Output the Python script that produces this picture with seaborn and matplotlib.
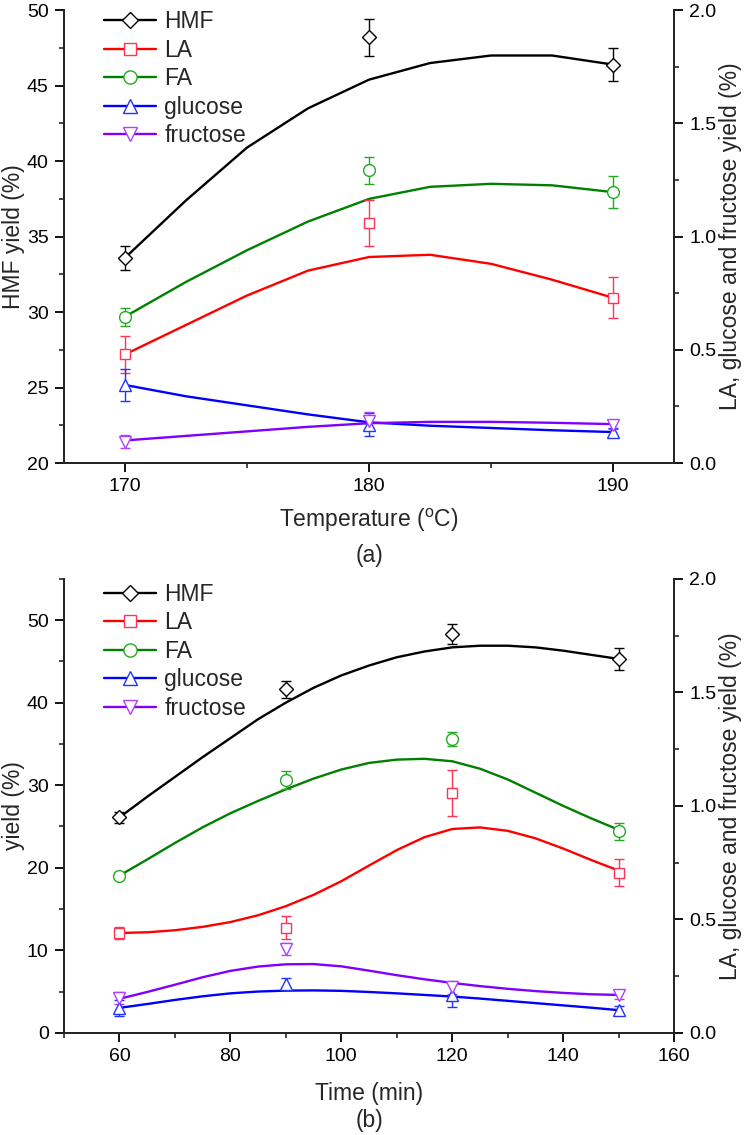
import numpy as np
import pandas as pd
import matplotlib.pyplot as plt
import seaborn as sns
from matplotlib.lines import Line2D
from matplotlib.ticker import MultipleLocator

sns.set_style('ticks')
plt.rcParams['font.family'] = ['Liberation Sans', 'DejaVu Sans']

# ---- panel (a): temperature series ----
temp = [170, 180, 190]
a_hmf = [33.6, 48.2, 46.4]
a_hmf_err = [0.8, 1.2, 1.1]
a_fa = [29.7, 39.4, 37.95]
a_fa_err = [0.6, 0.9, 1.05]
a_la = [0.48, 1.06, 0.73]
a_la_err = [0.08, 0.10, 0.09]
a_glu = [0.345, 0.17, 0.137]
a_glu_err = [0.07, 0.05, 0.02]
a_fru = [0.095, 0.187, 0.17]
a_fru_err = [0.03, 0.04, 0.02]

# fitted curves of panel (a)
temp_fit = [170, 172.5, 175, 177.5, 180, 182.5, 185, 187.5, 190]
a_hmf_fit = [33.6, 37.4, 40.9, 43.5, 45.4, 46.5, 47.0, 47.0, 46.4]
a_fa_fit = [29.7, 32.0, 34.1, 36.0, 37.5, 38.3, 38.5, 38.4, 37.95]
a_la_fit = [0.48, 0.61, 0.74, 0.85, 0.91, 0.92, 0.88, 0.81, 0.73]
a_glu_fit = [0.345, 0.295, 0.255, 0.215, 0.18, 0.165, 0.155, 0.145, 0.137]
a_fru_fit = [0.10, 0.12, 0.14, 0.16, 0.176, 0.182, 0.182, 0.178, 0.172]

# ---- panel (b): time series ----
time = [60, 90, 120, 150]
b_hmf = [26.1, 41.6, 48.3, 45.3]
b_hmf_err = [0.7, 1.0, 1.2, 1.3]
b_fa = [19.05, 30.6, 35.6, 24.4]
b_fa_err = [0.4, 1.1, 0.8, 1.0]
b_la = [0.44, 0.463, 1.057, 0.705]
b_la_err = [0.027, 0.05, 0.10, 0.06]
b_glu = [0.11, 0.216, 0.167, 0.10]
b_glu_err = [0.035, 0.025, 0.053, 0.02]
b_fru = [0.154, 0.37, 0.20, 0.167]
b_fru_err = [0.025, 0.028, 0.03, 0.02]

# fitted curves of panel (b)
time_fit = [60, 65, 70, 75, 80, 85, 90, 95, 100, 105, 110, 115, 120,
            125, 130, 135, 140, 145, 150]
b_hmf_fit = [26.1, 28.6, 31.0, 33.4, 35.7, 38.0, 40.0, 41.8, 43.3, 44.5,
             45.5, 46.2, 46.7, 46.9, 46.9, 46.7, 46.3, 45.8, 45.3]
b_fa_fit = [19.05, 21.0, 23.0, 24.9, 26.6, 28.1, 29.5, 30.8, 31.9, 32.7,
            33.1, 33.2, 32.9, 32.0, 30.7, 29.1, 27.5, 26.0, 24.6]
b_la_fit = [0.44, 0.443, 0.452, 0.467, 0.488, 0.518, 0.558, 0.608, 0.668, 0.737,
            0.805, 0.862, 0.898, 0.905, 0.89, 0.857, 0.812, 0.762, 0.715]
b_glu_fit = [0.11, 0.127, 0.145, 0.161, 0.174, 0.182, 0.186, 0.187, 0.185,
             0.18, 0.174, 0.167, 0.16, 0.151, 0.141, 0.131, 0.121, 0.111, 0.10]
b_fru_fit = [0.15, 0.18, 0.212, 0.245, 0.273, 0.292, 0.302, 0.303, 0.293,
             0.274, 0.254, 0.236, 0.22, 0.206, 0.194, 0.184, 0.176, 0.17, 0.167]

names = ['HMF', 'LA', 'FA', 'glucose', 'fructose']
line_colors = ['#000000', '#ff0000', '#008000', '#0000ff', '#8000ff']
marker_colors = ['#000000', '#ff3355', '#22aa22', '#2233ff', '#b040ff']
markers = ['D', 's', 'o', '^', 'v']
marker_sizes = [7, 7.5, 8.5, 9, 9]
on_right = [False, True, False, True, True]


def draw_panel(rect, x, x_fit, pts, errs, fits, xlim, ylim, xmaj, xmin,
               ymaj, ymin, xlabel, ylabel, tag, label_y, tag_y, leg_y):
    ax = fig.add_axes(rect)
    ax2 = ax.twinx()
    for i, name in enumerate(names):
        a = ax2 if on_right[i] else ax
        sns.lineplot(x=x_fit, y=fits[i], ax=a, color=line_colors[i],
                     lw=1.7, legend=False, zorder=2)
        a.errorbar(x, pts[i], yerr=errs[i], fmt=markers[i], mfc='white',
                   mec=marker_colors[i], ecolor=marker_colors[i],
                   ms=marker_sizes[i], mew=1.0, elinewidth=1.0,
                   capsize=3.5, capthick=1.0, zorder=3)

    ax.set_xlim(*xlim)
    ax.set_ylim(*ylim)
    ax2.set_ylim(0, 2.0)
    ax.xaxis.set_major_locator(MultipleLocator(xmaj))
    ax.xaxis.set_minor_locator(MultipleLocator(xmin))
    ax.yaxis.set_major_locator(MultipleLocator(ymaj))
    ax.yaxis.set_minor_locator(MultipleLocator(ymin))
    ax2.yaxis.set_major_locator(MultipleLocator(0.5))
    ax2.yaxis.set_minor_locator(MultipleLocator(0.25))
    ax2.yaxis.set_major_formatter(plt.FormatStrFormatter('%.1f'))

    for a in (ax, ax2):
        a.spines['top'].set_visible(False)
        for s in ('left', 'right', 'bottom'):
            a.spines[s].set_linewidth(1.4)
        a.tick_params(which='major', direction='out', length=6.5, width=1.3,
                      labelsize=14, colors='black', pad=4.5)
        a.tick_params(which='minor', direction='out', length=3.5, width=1.2)
    ax.tick_params(axis='y', which='both', right=False)

    ax.set_xlabel(xlabel, fontsize=16.5)
    ax.xaxis.set_label_coords(0.5, label_y)
    ax.set_ylabel(ylabel, fontsize=16.5, labelpad=1.5)
    ax2.set_ylabel('LA, glucose and fructose yield (%)', fontsize=16.5,
                   labelpad=2)
    ax.text(0.5, tag_y, tag, transform=ax.transAxes, ha='center',
            va='center', fontsize=16.5)

    handles = [Line2D([], [], color=line_colors[i], lw=1.7, marker=markers[i],
                      mfc='white', mec=marker_colors[i], mew=1.0,
                      ms=marker_sizes[i] + 1)
               for i in range(len(names))]
    ax2.legend(handles, names, loc='upper left', bbox_to_anchor=(0.05, leg_y),
               frameon=False, fontsize=16.5, handlelength=2.3,
               handletextpad=0.35, labelspacing=0.24, borderaxespad=0)
    return ax, ax2


fig = plt.figure(figsize=(7.44, 11.35), dpi=100)

draw_panel([0.086, 0.592, 0.820, 0.399], temp, temp_fit,
           [a_hmf, a_la, a_fa, a_glu, a_fru],
           [a_hmf_err, a_la_err, a_fa_err, a_glu_err, a_fru_err],
           [a_hmf_fit, a_la_fit, a_fa_fit, a_glu_fit, a_fru_fit],
           (167.5, 192.5), (20, 50), 10, 5, 5, 2.5,
           'Temperature ($\\mathregular{^o}$C)', 'HMF yield (%)', '(a)',
           -0.097, -0.203, 1.02)

draw_panel([0.086, 0.090, 0.820, 0.400], time, time_fit,
           [b_hmf, b_la, b_fa, b_glu, b_fru],
           [b_hmf_err, b_la_err, b_fa_err, b_glu_err, b_fru_err],
           [b_hmf_fit, b_la_fit, b_fa_fit, b_glu_fit, b_fru_fit],
           (50, 160), (0, 55), 20, 10, 10, 5,
           'Time (min)', 'yield (%)', '(b)',
           -0.108, -0.193, 1.012)

fig.savefig('out.png', dpi=100)
